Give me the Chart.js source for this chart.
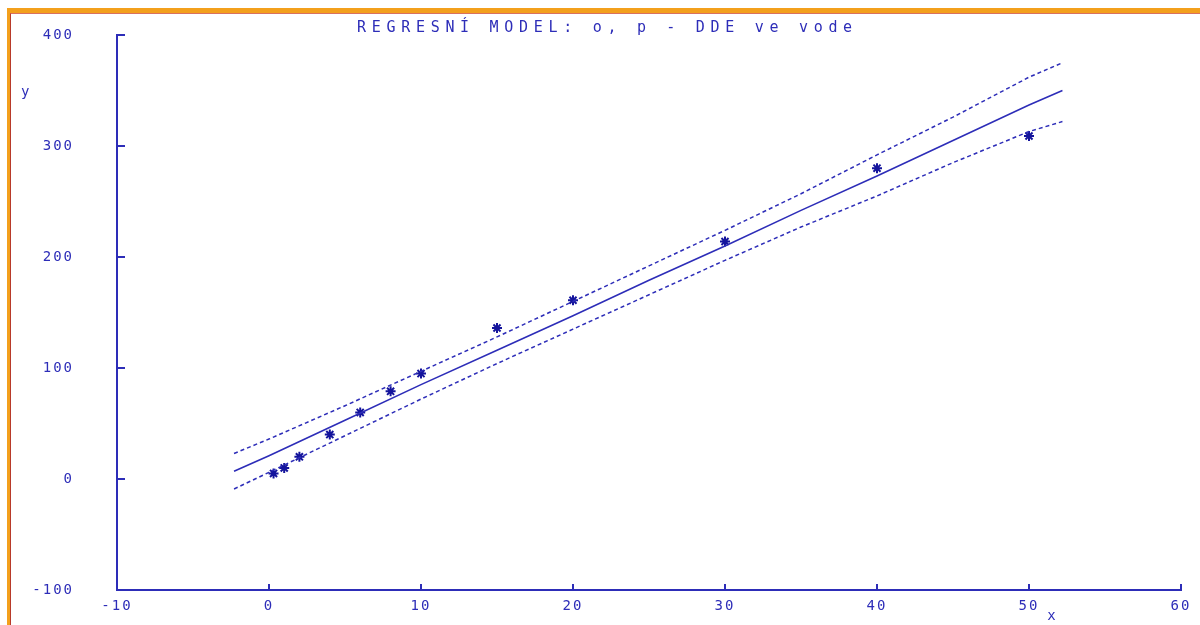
<!DOCTYPE html>
<html>
<head>
<meta charset="utf-8">
<script src="https://cdn.jsdelivr.net/npm/chart.js@4/dist/chart.umd.min.js"></script>
<style>
  html, body { margin: 0; padding: 0; background: #fff; }
  #wrap { position: relative; width: 1200px; height: 625px; }
  #frame {
    position: absolute; left: 7px; top: 8px; right: 0; bottom: 0;
    border-left: 3px solid #f3a01c; border-top: 5px solid #f3a01c;
    pointer-events: none;
  }
  #frame div {
    position: absolute; left: 0; top: 0; right: 0; bottom: 0;
    border-left: 1px solid #b83a2a; border-top: 1px solid #d87060;
  }
</style>
</head>
<body>
<div id="wrap">
  <canvas id="chart"></canvas>
  <div id="frame"><div></div></div>
</div>
<script>
// measured points
const obsX = [0.3, 1, 2, 4, 6, 8, 10, 15, 20, 30, 40, 50];
const obsY = [5, 10, 20, 40, 60, 79, 95, 136, 161, 214, 280, 309];

// regression line and its band
const fitX = [-2.3, 0, 5, 10, 15, 20, 25, 30, 35, 40, 45, 50, 52.2];
const fitY = [7, 21, 53, 85, 116, 147, 179, 210, 242, 273, 305, 337, 350];
const upperY = [23, 36, 66, 97, 128, 160, 192, 224, 257, 292, 326, 362, 375];
const lowerY = [-9, 6, 39, 72, 104, 135, 166, 197, 227, 255, 285, 313, 322];

const xTicks = [-10, 0, 10, 20, 30, 40, 50, 60];
const yTicks = [-100, 0, 100, 200, 300, 400];

const titleText = 'REGRESNÍ MODEL: o, p - DDE ve vode';
const BLUE = '#2d2db8';
const DARK = '#14149c';
const MONO = '"DejaVu Sans Mono", "Liberation Mono", monospace';

const pts = (xs, ys) => xs.map((x, i) => ({ x: x, y: ys[i] }));

// texte espacé façon écran DOS
const dosText = {
  id: 'dosText',
  beforeDraw(chart) {
    chart.ctx.letterSpacing = '2px';
  },
  afterDraw(chart) {
    const ctx = chart.ctx;
    ctx.save();
    ctx.fillStyle = BLUE;
    ctx.textBaseline = 'middle';
    ctx.textAlign = 'left';
    ctx.font = '15px ' + MONO;
    ctx.letterSpacing = '5.7px';
    ctx.fillText(titleText, 357, 28);
    ctx.font = '14px ' + MONO;
    ctx.letterSpacing = '0px';
    ctx.fillText('y', 21, 92);
    ctx.fillText('x', chart.scales.x.getPixelForValue(51.2), 616);
    ctx.restore();
    ctx.letterSpacing = '0px';
  }
};

const axisOpts = (min, max, ticks, pad, tl) => ({
  type: 'linear',
  min: min,
  max: max,
  afterBuildTicks: (s) => { s.ticks = ticks.map((v) => ({ value: v })); },
  ticks: { color: BLUE, font: { family: MONO, size: 14 }, padding: pad },
  grid: { drawOnChartArea: false, drawTicks: true, tickLength: tl, color: BLUE, lineWidth: 2 },
  border: { display: true, color: BLUE, width: 2 }
});

const xAxis = axisOpts(-10, 60, xTicks, 14, -6);
xAxis.position = 'bottom';
xAxis.afterFit = (s) => { s.height = 35; s.paddingLeft = 0; s.paddingRight = 0; };
const yAxis = axisOpts(-100, 400, yTicks, 51, -8);
yAxis.position = 'left';
yAxis.afterFit = (s) => { s.width = 117; s.paddingTop = 0; s.paddingBottom = 0; };

new Chart(document.getElementById('chart').getContext('2d'), {
  type: 'scatter',
  data: {
    datasets: [
      {
        label: 'upper',
        data: pts(fitX, upperY),
        showLine: true,
        borderColor: BLUE,
        borderWidth: 1.5,
        borderDash: [4, 3],
        pointRadius: 0,
      },
      {
        label: 'fit',
        data: pts(fitX, fitY),
        showLine: true,
        borderColor: BLUE,
        borderWidth: 1.6,
        pointRadius: 0,
      },
      {
        label: 'lower',
        data: pts(fitX, lowerY),
        showLine: true,
        borderColor: BLUE,
        borderWidth: 1.5,
        borderDash: [4, 3],
        pointRadius: 0,
      },
      {
        label: 'data',
        data: pts(obsX, obsY),
        showLine: false,
        pointStyle: 'star',
        pointRadius: 5,
        borderWidth: 2,
        borderColor: DARK,
        backgroundColor: DARK,
      }
    ]
  },
  options: {
    responsive: true,
    maintainAspectRatio: false,
    animation: false,
    layout: { padding: { top: 35, right: 19, left: 0, bottom: 0 } },
    plugins: { legend: { display: false }, tooltip: { enabled: false }, title: { display: false } },
    scales: { x: xAxis, y: yAxis }
  },
  plugins: [dosText]
});
</script>
</body>
</html>
